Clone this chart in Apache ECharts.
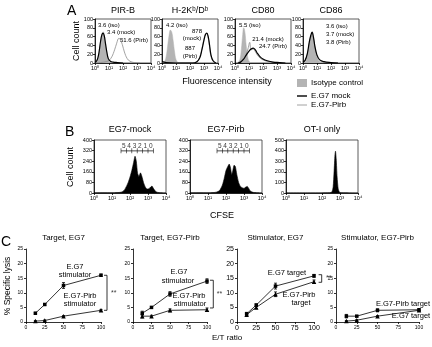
<!DOCTYPE html>
<html>
<head>
<meta charset="utf-8">
<script src="https://cdn.jsdelivr.net/npm/echarts@6/dist/echarts.min.js"></script>
<style>
  html, body { margin: 0; padding: 0; background: #fff; }
  #chart { width: 432px; height: 347px; }
</style>
</head>
<body>
<div id="chart"></div>
<script>
// ---- data ----
const logTicks = ['10⁰', '10¹', '10²', '10³', '10⁴'];

// panel A: [log10 fluorescence, % of max]
const aTitles = ['PIR-B', 'H-2Kᵇ/Dᵇ', 'CD80', 'CD86'];
const pirbIso  = [[0,0],[0.1,3],[0.2,10],[0.3,25],[0.4,48],[0.5,66],[0.58,71],[0.65,66],[0.75,45],[0.85,22],[0.95,8],[1.05,2],[1.2,0]];
const pirbMock = [[0,1],[0.1,4],[0.2,11],[0.3,27],[0.4,50],[0.5,65],[0.58,68],[0.66,62],[0.75,44],[0.85,24],[0.95,10],[1.1,4],[1.3,2],[1.6,1],[2,0]];
const pirbPirb = [[0,0],[0.4,1],[0.8,3],[1.0,6],[1.2,14],[1.4,30],[1.55,45],[1.7,56],[1.8,54],[1.95,42],[2.1,25],[2.3,10],[2.5,4],[2.8,1],[3.2,0]];
const h2kIso  = [[0.1,0],[0.2,4],[0.3,15],[0.4,38],[0.5,62],[0.6,75],[0.7,70],[0.8,50],[0.9,25],[1.0,8],[1.15,1],[1.3,0]];
const h2kMock = [[0,3],[0.3,1],[1,0],[2.2,0],[2.5,3],[2.7,12],[2.85,30],[3.0,52],[3.1,64],[3.2,68],[3.3,60],[3.4,40],[3.5,18],[3.65,5],[3.85,0]];
const h2kPirb = [[0,2],[0.3,0],[2.2,0],[2.5,4],[2.7,14],[2.85,33],[3.0,55],[3.1,66],[3.2,67],[3.3,57],[3.4,36],[3.5,15],[3.65,4],[3.85,0]];
const cd80Iso  = [[0.2,0],[0.35,8],[0.45,30],[0.55,65],[0.62,80],[0.7,72],[0.8,40],[0.9,15],[1.0,4],[1.15,0]];
const cd80Mock = [[0.2,0],[0.4,2],[0.6,8],[0.8,18],[1.0,27],[1.15,32],[1.3,34],[1.45,30],[1.6,22],[1.8,14],[2.0,9],[2.3,5],[2.7,2],[3.2,1],[3.6,0]];
const cd80Pirb = [[0.2,0],[0.4,3],[0.6,10],[0.8,20],[0.95,35],[1.05,47],[1.15,30],[1.3,32],[1.45,26],[1.6,18],[1.8,11],[2.0,7],[2.3,4],[2.7,2],[3.2,0]];
const cd86Iso  = [[0.1,0],[0.25,8],[0.4,30],[0.5,52],[0.6,63],[0.7,58],[0.8,40],[0.95,18],[1.1,6],[1.3,1],[1.5,0]];
const cd86Mock = [[0,2],[0.15,6],[0.3,20],[0.45,48],[0.55,62],[0.65,70],[0.75,58],[0.85,38],[1.0,18],[1.2,7],[1.5,3],[2,1],[2.5,0]];
const cd86Pirb = [[0,2],[0.15,5],[0.3,18],[0.45,44],[0.55,58],[0.65,66],[0.75,55],[0.85,36],[1.0,16],[1.2,6],[1.5,2],[2,0]];

// panel B: CFSE dilution [log10 CFSE, cell count]
const bTitles = ['EG7-mock', 'EG7-Pirb', 'OT-I only'];
const cfseMock = [[0,1],[0.5,2],[1,1],[1.3,3],[1.5,6],[1.6,12],[1.7,25],[1.8,50],[1.9,80],[2.0,120],[2.1,170],[2.2,230],[2.28,278],[2.35,240],[2.42,150],[2.5,125],[2.58,152],[2.65,130],[2.75,80],[2.85,45],[2.95,30],[3.05,32],[3.15,45],[3.22,52],[3.3,35],[3.4,15],[3.5,6],[3.7,2],[4,0]];
const cfsePirb = [[0,1],[0.5,2],[1,1],[1.3,3],[1.5,8],[1.65,20],[1.8,60],[1.9,110],[2.0,170],[2.1,200],[2.18,218],[2.25,190],[2.32,140],[2.38,170],[2.45,210],[2.52,200],[2.6,140],[2.7,80],[2.8,50],[2.9,40],[3.0,35],[3.1,45],[3.18,50],[3.25,38],[3.35,15],[3.5,5],[3.7,2],[4,0]];
const cfseOt1  = [[0,1],[1,1],[2,1],[2.4,2],[2.55,10],[2.62,60],[2.67,200],[2.72,360],[2.75,395],[2.79,320],[2.84,150],[2.9,40],[2.97,8],[3.1,2],[3.5,1],[4,0]];
const gateEdges = [1.5, 1.8, 2.1, 2.4, 2.7, 3.0, 3.3];
const gateLabels = ['5', '4', '3', '2', '1', '0'];

// panel C: % specific lysis vs E/T ratio
const cTitles = ['Target, EG7', 'Target, EG7-Pirb', 'Stimulator, EG7', 'Stimulator, EG7-Pirb'];
const etRatio = [12.5, 25, 50, 100];
const c1Eg7 = [3, 6, 12.5, 16],       c1Eg7Err = [0.3, 0.3, 1.0, 0.4];
const c1Pirb = [0.3, 0.5, 2, 4],      c1PirbErr = [0.2, 0.2, 0.2, 0.3];
const c2Eg7 = [3.0, 5.0, 9.6, 14.0],  c2Eg7Err = [0.7, 0.3, 0.8, 0.8];
const c2Pirb = [2.0, 2.0, 4.0, 4.2],  c2PirbErr = [0.6, 0.3, 0.5, 0.6];
const c3Eg7 = [2.8, 5.8, 12.3, 15.8], c3Eg7Err = [0.5, 0.4, 1.0, 0.5];
const c3Pirb = [2.5, 5.0, 9.5, 13.8], c3PirbErr = [0.5, 0.4, 0.8, 0.6];
const c4Pirb = [2.0, 2.0, 4.0, 4.2],  c4PirbErr = [0.6, 0.2, 0.5, 0.3];
const c4Eg7 = [0.3, 0.6, 2.0, 4.0],   c4Eg7Err = [0.2, 0.2, 0.2, 0.2];

// ---- chart ----
const FONT = 'Liberation Sans, Arial, sans-serif';
const chart = echarts.init(document.getElementById('chart'));
const grids = [], xAxes = [], yAxes = [], series = [];

function addGrid(g, x, y) {
  const i = grids.length;
  grids.push(g);
  xAxes.push(Object.assign({ gridIndex: i }, x));
  yAxes.push(Object.assign({ gridIndex: i }, y));
  return i;
}

function axisBase(fs) {
  return {
    type: 'value',
    axisLine: { show: true, lineStyle: { color: '#000', width: 0.8 } },
    axisTick: { show: true, length: 2, lineStyle: { color: '#000', width: 0.8 } },
    axisLabel: { fontSize: fs, margin: 2, color: '#000', fontFamily: FONT },
    splitLine: { show: false }
  };
}

function histAxes(ymax, yint) {
  const x = axisBase(5.5);
  x.min = 0; x.max = 4; x.interval = 1;
  x.axisLabel.formatter = v => logTicks[v];
  const y = axisBase(5.5);
  y.min = 0; y.max = ymax; y.interval = yint;
  return [x, y];
}

function line(gi, data, color, width, fill, smooth) {
  const s = {
    type: 'line', xAxisIndex: gi, yAxisIndex: gi, data: data, symbol: 'none',
    smooth: smooth, silent: true, lineStyle: { color: color, width: width }
  };
  if (fill) s.areaStyle = { color: fill, opacity: 1 };
  return s;
}

// panel A
const aLeft = [95, 162, 235, 303];
const aData = [
  [pirbIso, pirbPirb, pirbMock],
  [h2kIso, h2kPirb, h2kMock],
  [cd80Iso, cd80Pirb, cd80Mock],
  [cd86Iso, cd86Pirb, cd86Mock]
];
aLeft.forEach((left, k) => {
  const ax = histAxes(100, 20);
  const gi = addGrid({ left: left, top: 19, width: 56, height: 44, show: true, borderColor: '#333', borderWidth: 0.8 }, ax[0], ax[1]);
  series.push(line(gi, aData[k][0], '#b4b4b4', 0.5, '#b4b4b4', 0.4));
  series.push(line(gi, aData[k][1], '#8c8c8c', 0.8, null, 0.4));
  series.push(line(gi, aData[k][2], '#000', 1.2, null, 0.4));
});

// panel B
const bLeft = [94, 190, 286];
const bData = [cfseMock, cfsePirb, cfseOt1];
const bMax = [400, 400, 500], bInt = [80, 80, 100];
bLeft.forEach((left, k) => {
  const ax = histAxes(bMax[k], bInt[k]);
  const gi = addGrid({ left: left, top: 140, width: 72, height: 53, show: true, borderColor: '#333', borderWidth: 0.8 }, ax[0], ax[1]);
  series.push(line(gi, bData[k], '#000', 0.6, '#000', 0.2));
  if (k < 2) {
    const gy = 318;
    series.push({
      type: 'line', xAxisIndex: gi, yAxisIndex: gi, symbol: 'none', silent: true,
      data: [[gateEdges[0], gy], [gateEdges[gateEdges.length - 1], gy]],
      lineStyle: { color: '#000', width: 0.7 }
    });
    series.push({
      type: 'scatter', xAxisIndex: gi, yAxisIndex: gi, silent: true,
      data: gateEdges.map(x => [x, gy]), symbol: 'rect', symbolSize: [0.7, 5],
      itemStyle: { color: '#000' }
    });
    series.push({
      type: 'scatter', xAxisIndex: gi, yAxisIndex: gi, silent: true, symbolSize: 0,
      data: gateLabels.map((t, i) => [(gateEdges[i] + gateEdges[i + 1]) / 2, gy]),
      label: { show: true, position: 'top', distance: 1, fontSize: 6.5, color: '#000', fontFamily: FONT,
               formatter: p => gateLabels[p.dataIndex] }
    });
  }
});

// panel C
const st = { stroke: '#000', lineWidth: 0.8 };
function errRender(params, api) {
  const x = api.value(0), y = api.value(1), e = api.value(2);
  const hi = api.coord([x, y + e]), lo = api.coord([x, y - e]);
  const w = 1.5;
  return { type: 'group', children: [
    { type: 'line', shape: { x1: hi[0], y1: hi[1], x2: lo[0], y2: lo[1] }, style: st },
    { type: 'line', shape: { x1: hi[0] - w, y1: hi[1], x2: hi[0] + w, y2: hi[1] }, style: st },
    { type: 'line', shape: { x1: lo[0] - w, y1: lo[1], x2: lo[0] + w, y2: lo[1] }, style: st }
  ] };
}
function bracketRender(params, api) {
  const a = api.coord([api.value(0), api.value(2)]);
  const b = api.coord([api.value(1), api.value(2)]);
  const c = api.coord([api.value(1), api.value(3)]);
  const d = api.coord([api.value(0), api.value(3)]);
  return { type: 'polyline', shape: { points: [a, b, c, d] }, style: { stroke: '#000', lineWidth: 0.8, fill: null } };
}

const cLeft = [26, 133, 237, 336], cWidth = [75, 74, 77, 83], cFont = [5, 5, 7, 5];
const cData = [
  [[c1Eg7, c1Eg7Err, 'rect'], [c1Pirb, c1PirbErr, 'triangle']],
  [[c2Eg7, c2Eg7Err, 'rect'], [c2Pirb, c2PirbErr, 'triangle']],
  [[c3Eg7, c3Eg7Err, 'rect'], [c3Pirb, c3PirbErr, 'triangle']],
  [[c4Pirb, c4PirbErr, 'rect'], [c4Eg7, c4Eg7Err, 'triangle']]
];
// significance brackets [x-inner, x-outer, y-top, y-bottom, star x, star y]
const cBrackets = [[104, 108, 16, 4, 117, 10], [104, 108.5, 14.3, 4.8, 117, 9.5], [106, 110, 16.2, 13.6, 119, 14.9], null];

cLeft.forEach((left, k) => {
  const x = axisBase(cFont[k]);
  x.min = 0; x.max = 100; x.interval = 25; x.axisLabel.margin = 3;
  const y = axisBase(cFont[k]);
  y.min = 0; y.max = 25; y.interval = 5; y.axisLabel.margin = 3;
  const gi = addGrid({ left: left, top: 249, width: cWidth[k], height: 73 }, x, y);
  cData[k].forEach(d => {
    series.push({
      type: 'line', xAxisIndex: gi, yAxisIndex: gi, silent: true,
      data: etRatio.map((r, i) => [r, d[0][i]]),
      symbol: d[2], symbolSize: d[2] === 'rect' ? 3.5 : 4.5,
      lineStyle: { color: '#000', width: 0.8 }, itemStyle: { color: '#000' }
    });
    series.push({
      type: 'custom', xAxisIndex: gi, yAxisIndex: gi, silent: true, renderItem: errRender,
      data: etRatio.map((r, i) => [r, d[0][i], d[1][i]])
    });
  });
  const b = cBrackets[k];
  if (b) {
    series.push({
      type: 'custom', xAxisIndex: gi, yAxisIndex: gi, silent: true, clip: false,
      renderItem: bracketRender, data: [[b[0], b[1], b[2], b[3]]]
    });
    series.push({
      type: 'scatter', xAxisIndex: gi, yAxisIndex: gi, symbolSize: 0, silent: true, clip: false,
      data: [[b[4], b[5]]],
      label: { show: true, position: 'inside', formatter: '**', fontSize: 7, color: '#000', fontFamily: FONT }
    });
  }
});

// ---- texts ----
function txt(text, x, y, fs, align, extra) {
  return Object.assign({
    type: 'text', x: x, y: y, silent: true,
    style: { text: text, fontSize: fs, fontFamily: FONT, fill: '#000', align: align || 'center', verticalAlign: 'middle' }
  }, extra || {});
}
const rot = { rotation: Math.PI / 2 };
const graphics = [
  txt('A', 67, 11, 14, 'left'),
  txt('B', 65, 132, 14, 'left'),
  txt('C', 1, 242, 14, 'left'),
  txt('Cell count', 77, 41, 9, 'center', rot),
  txt('Cell count', 71, 167, 9, 'center', rot),
  txt('% Specific lysis', 8, 286, 8.5, 'center', rot),
  txt('Fluorescence intensity', 227, 82, 9),
  txt('CFSE', 222, 216, 9),
  txt('E/T ratio', 212, 338, 8, 'left'),
  // A annotations
  txt('3.6 (iso)', 98, 25, 6, 'left'),
  txt('3.4 (mock)', 107, 32, 6, 'left'),
  txt('51.6 (Pirb)', 120, 40, 6, 'left'),
  txt('4.2 (iso)', 166, 25, 6, 'left'),
  txt('878', 197, 31, 6),
  txt('(mock)', 192, 38, 6),
  txt('887', 190, 48, 6),
  txt('(Pirb)', 190, 56, 6),
  txt('5.5 (iso)', 239, 25, 6, 'left'),
  txt('21.4 (mock)', 268, 39, 6),
  txt('24.7 (Pirb)', 273, 46, 6),
  txt('3.6 (iso)', 326, 26, 6, 'left'),
  txt('3.7 (mock)', 326, 34, 6, 'left'),
  txt('3.8 (Pirb)', 326, 42, 6, 'left'),
  // legend
  { type: 'rect', shape: { x: 297, y: 79, width: 10, height: 8 }, style: { fill: '#b4b4b4' }, silent: true },
  txt('Isotype control', 311, 83, 8, 'left'),
  { type: 'line', shape: { x1: 297, y1: 96, x2: 307, y2: 96 }, style: { stroke: '#000', lineWidth: 1.4 }, silent: true },
  txt('E.G7 mock', 311, 96, 8, 'left'),
  { type: 'line', shape: { x1: 297, y1: 105, x2: 307, y2: 105 }, style: { stroke: '#8c8c8c', lineWidth: 0.8 }, silent: true },
  txt('E.G7-Pirb', 311, 105, 8, 'left'),
  // C annotations
  txt('E.G7', 75, 267, 7.5),
  txt('stimulator', 75, 275, 7.5),
  txt('E.G7-Pirb', 80, 296, 7.5),
  txt('stimulator', 80, 304, 7.5),
  txt('E.G7', 179, 272, 7.5),
  txt('stimulator', 178, 281, 7.5),
  txt('E.G7-Pirb', 189, 296, 7.5),
  txt('stimulator', 190, 304, 7.5),
  txt('E.G7 target', 287, 273, 7.5),
  txt('E.G7-Pirb', 299, 295, 7.5),
  txt('target', 301, 303, 7.5),
  txt('E.G7-Pirb target', 403, 304, 7.5),
  txt('E.G7 target', 411, 316, 7.5)
];
aTitles.forEach((t, k) => graphics.push(txt(t, aLeft[k] + 28, 11, 9)));
bTitles.forEach((t, k) => graphics.push(txt(t, bLeft[k] + 36, 130, 9)));
cTitles.forEach((t, k) => graphics.push(txt(t, cLeft[k] + cWidth[k] / 2, 238, 8)));

chart.setOption({
  animation: false,
  textStyle: { fontFamily: FONT },
  grid: grids,
  xAxis: xAxes,
  yAxis: yAxes,
  series: series,
  graphic: graphics
});
window.addEventListener('resize', function () { chart.resize(); });
</script>
</body>
</html>
